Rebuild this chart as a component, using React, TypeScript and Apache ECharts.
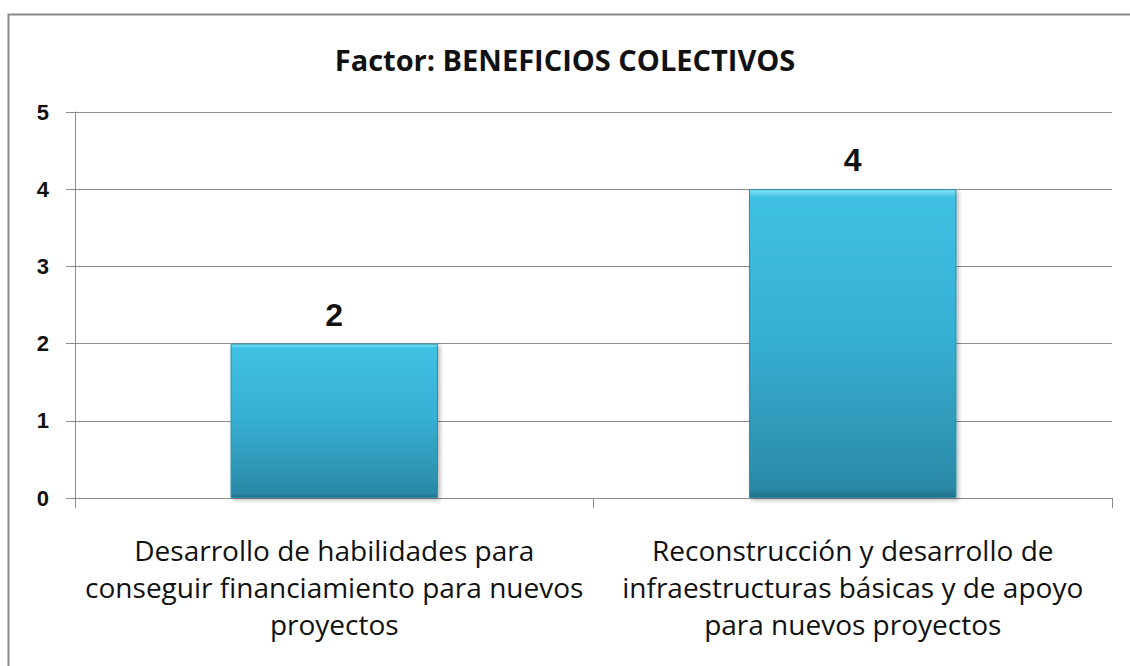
import React, { useEffect, useRef } from "react";
import * as echarts from "echarts";

const chartTitle = "Factor: BENEFICIOS COLECTIVOS";
const categories = [
  "Desarrollo de habilidades para\nconseguir financiamiento para nuevos\nproyectos",
  "Reconstrucción y desarrollo de\ninfraestructuras básicas y de apoyo\npara nuevos proyectos",
];
const values = [2, 4];
const yTicks = { min: 0, max: 5, interval: 1 };

export default function App() {
  const ref = useRef<HTMLDivElement>(null);
  useEffect(() => {
    if (!ref.current) return;
    const chart = echarts.init(ref.current, null, { renderer: "svg" });
    chart.setOption({
      animation: false,
      backgroundColor: "#ffffff",
      title: {
        text: chartTitle,
        left: "center",
        top: 40,
        textStyle: {
          fontFamily: "Open Sans",
          fontWeight: "bold",
          fontSize: 29,
          color: "#111",
        },
      },
      graphic: [
        {
          type: "rect",
          left: 6,
          top: 12,
          shape: { width: 1200, height: 700 },
          style: { fill: "none", stroke: "#8a8a8a", lineWidth: 2 },
          silent: true,
        },
      ],
      grid: { left: 75, right: 18, top: 112, bottom: 168 },
      xAxis: {
        type: "category",
        data: categories,
        boundaryGap: true,
        axisLine: { show: true, lineStyle: { color: "#8c8c8c", width: 1 } },
        axisTick: { show: true, length: 10, lineStyle: { color: "#8c8c8c" } },
        axisLabel: {
          interval: 0,
          margin: 33,
          fontFamily: "Open Sans",
          fontSize: 28,
          lineHeight: 37,
          color: "#111",
          align: "center",
        },
      },
      yAxis: {
        type: "value",
        min: yTicks.min,
        max: yTicks.max,
        interval: yTicks.interval,
        axisLine: { show: true, lineStyle: { color: "#8c8c8c", width: 1 } },
        axisTick: { show: true, length: 9, lineStyle: { color: "#8c8c8c" } },
        splitLine: { show: true, lineStyle: { color: "#8c8c8c", width: 1 } },
        axisLabel: {
          margin: 26,
          fontFamily: "Liberation Sans",
          fontWeight: "bold",
          fontSize: 22,
          color: "#111",
        },
      },
      series: [
        {
          type: "bar",
          data: values,
          barWidth: "40%",
          itemStyle: {
            color: new echarts.graphic.LinearGradient(0, 0, 0, 1, [
              { offset: 0, color: "#8ae4f7" },
              { offset: 0.025, color: "#3fc1e4" },
              { offset: 0.5, color: "#36aed2" },
              { offset: 0.97, color: "#2b89a6" },
              { offset: 1, color: "#1f6d86" },
            ]),
            borderColor: "#2a90ae",
            borderWidth: 1,
            shadowColor: "rgba(0,0,0,0.3)",
            shadowBlur: 4,
            shadowOffsetX: 2,
            shadowOffsetY: 2,
          },
          label: {
            show: true,
            position: "top",
            distance: 13,
            fontFamily: "Liberation Sans",
            fontWeight: "bold",
            fontSize: 32,
            color: "#111",
          },
        },
      ],
    });
    return () => chart.dispose();
  }, []);
  return (
    <div
      ref={ref}
      style={{ position: "fixed", left: 0, top: 0, width: 1130, height: 666 }}
    />
  );
}
